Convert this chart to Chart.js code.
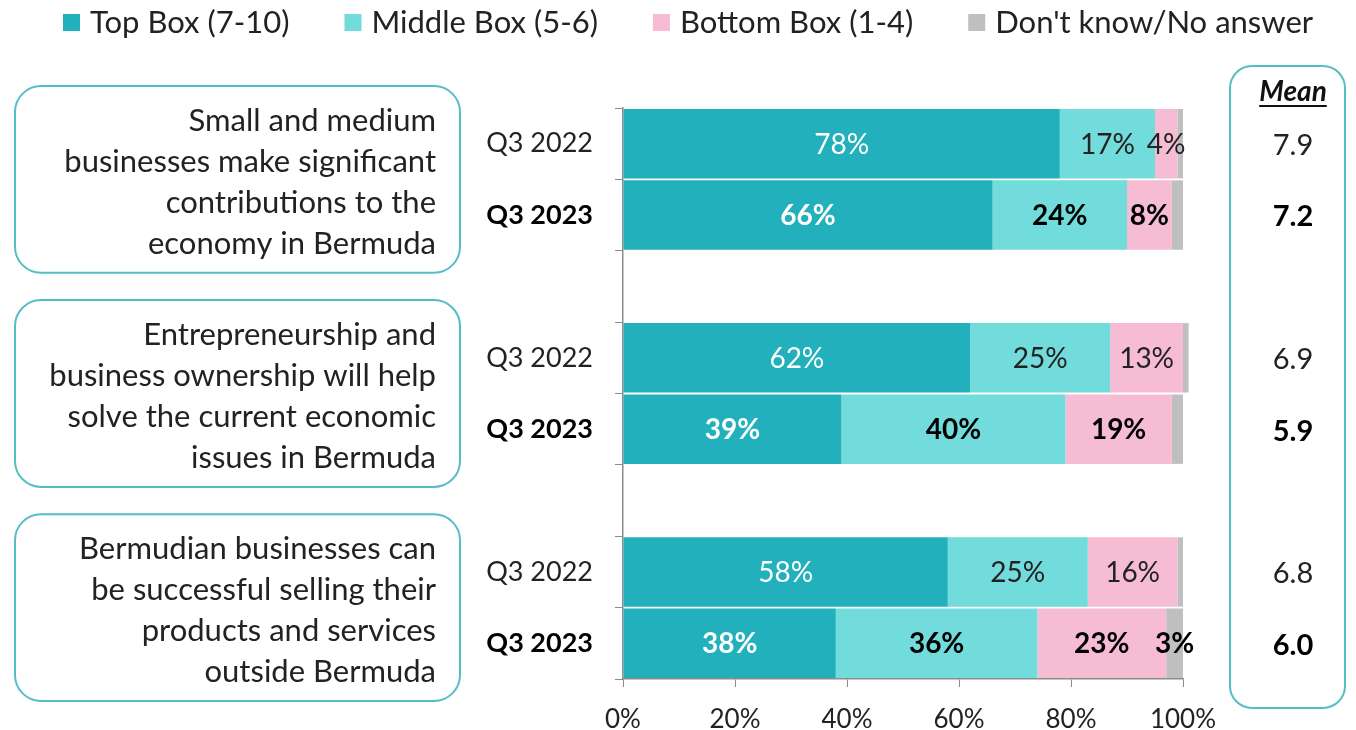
<!DOCTYPE html>
<html>
<head>
<meta charset="utf-8">
<script src="https://cdn.jsdelivr.net/npm/chart.js@4.4.1/dist/chart.umd.min.js"></script>
<style>
  html, body { margin: 0; padding: 0; background: #fff; }
  #wrap { width: 1356px; height: 730px; position: relative; }
</style>
</head>
<body>
<div id="wrap"><canvas id="agreeChart"></canvas></div>
<script>
const statements = [
  ['Small and medium', 'businesses make significant', 'contributions to the', 'economy in Bermuda'],
  ['Entrepreneurship and', 'business ownership will help', 'solve the current economic', 'issues in Bermuda'],
  ['Bermudian businesses can', 'be successful selling their', 'products and services', 'outside Bermuda']
];
const waves = ['Q3 2022', 'Q3 2023'];
const seriesNames = ['Top Box (7-10)', 'Middle Box (5-6)', 'Bottom Box (1-4)', "Don't know/No answer"];
const topBox = [78, 66, 62, 39, 58, 38];
const middleBox = [17, 24, 25, 40, 25, 36];
const bottomBox = [4, 8, 13, 19, 16, 23];
const dontKnow = [1, 2, 1, 2, 1, 3];
const means = ['7.9', '7.2', '6.9', '5.9', '6.8', '6.0'];
const xTickStep = 20;

const colors = ['#22b0bc', '#72dbdb', '#f5bcd3', '#bfbfbf'];
const FONT = 'Lato, "Open Sans", sans-serif';
const boxLine = '#55bec5';
const axisColor = '#8c8c8c';

// slots: two bars per statement, an empty slot between groups
const slotLabels = [];
const slotIndex = [];
statements.forEach((s, g) => {
  if (g > 0) { slotLabels.push(''); slotIndex.push(-1); }
  waves.forEach((w, k) => { slotLabels.push(w); slotIndex.push(g * 2 + k); });
});
const pad = arr => slotIndex.map(i => (i < 0 ? null : arr[i]));
const isLatest = i => slotIndex[i] >= 0 && slotIndex[i] % 2 === 1;

const decor = {
  id: 'decor',
  afterDatasetsDraw(chart) {
    const ctx = chart.ctx;
    ctx.save();
    ctx.textAlign = 'center';
    ctx.textBaseline = 'middle';
    chart.data.datasets.forEach((ds, d) => {
      const meta = chart.getDatasetMeta(d);
      meta.data.forEach((bar, j) => {
        const v = ds.data[j];
        if (v == null || v < 3) return;
        const bold = isLatest(j);
        ctx.font = (bold ? 'bold ' : '') + '28px ' + FONT;
        ctx.fillStyle = d === 0 ? '#ffffff' : (bold ? '#000000' : '#222222');
        ctx.fillText(v + '%', (bar.x + bar.base) / 2, bar.y + 1);
      });
    });
    ctx.restore();
  },
  afterDraw(chart) {
    const ctx = chart.ctx;
    ctx.save();

    // legend
    ctx.textBaseline = 'middle';
    ctx.textAlign = 'left';
    ctx.font = '31px ' + FONT;
    let lx = 63;
    seriesNames.forEach((name, i) => {
      ctx.fillStyle = colors[i];
      ctx.fillRect(lx, 14, 17, 17);
      ctx.fillStyle = '#222';
      ctx.fillText(name, lx + 27, 23);
      lx += 27 + ctx.measureText(name).width + 55;
    });

    // statement boxes
    const meta0 = chart.getDatasetMeta(0);
    statements.forEach((lines, g) => {
      const j0 = slotIndex.indexOf(g * 2);
      const j1 = slotIndex.indexOf(g * 2 + 1);
      const b0 = meta0.data[j0], b1 = meta0.data[j1];
      const top = b0.y - b0.height / 2 - 23;
      const bottom = b1.y + b1.height / 2 + 23;
      ctx.strokeStyle = boxLine;
      ctx.lineWidth = 2;
      ctx.beginPath();
      ctx.roundRect(15, top, 445, bottom - top, 26);
      ctx.stroke();
      const mid = (top + bottom) / 2 + 3;
      ctx.fillStyle = '#222';
      ctx.font = '31px ' + FONT;
      ctx.textAlign = 'right';
      lines.forEach((ln, k) => {
        ctx.fillText(ln, 436, mid + (k - (lines.length - 1) / 2) * 41);
      });
    });

    // mean column
    ctx.strokeStyle = boxLine;
    ctx.lineWidth = 2;
    ctx.beginPath();
    ctx.roundRect(1230, 66, 115, 642, 22);
    ctx.stroke();
    ctx.textAlign = 'center';
    ctx.fillStyle = '#111';
    ctx.font = 'italic bold 28px ' + FONT;
    ctx.fillText('Mean', 1293, 92);
    const mw = ctx.measureText('Mean').width;
    ctx.fillRect(1293 - mw / 2, 105, mw, 2);
    meta0.data.forEach((bar, j) => {
      if (slotIndex[j] < 0) return;
      ctx.font = (isLatest(j) ? 'bold ' : '') + '29px ' + FONT;
      ctx.fillStyle = isLatest(j) ? '#000' : '#222';
      ctx.fillText(means[slotIndex[j]], 1293, bar.y + 2);
    });
    ctx.restore();
  }
};

const series = [topBox, middleBox, bottomBox, dontKnow];

new Chart(document.getElementById('agreeChart'), {
  type: 'bar',
  data: {
    labels: slotLabels,
    datasets: series.map((arr, i) => ({
      label: seriesNames[i],
      data: pad(arr),
      backgroundColor: colors[i],
      borderWidth: 0,
      barPercentage: 1,
      categoryPercentage: 0.972,
      clip: false
    }))
  },
  options: {
    indexAxis: 'y',
    responsive: true,
    maintainAspectRatio: false,
    animation: false,
    layout: { padding: { left: 453, right: 173, top: 108, bottom: 0 } },
    plugins: {
      legend: { display: false },
      tooltip: { enabled: false }
    },
    scales: {
      x: {
        stacked: true,
        min: 0,
        max: 100,
        afterFit: scale => { scale.height = 51; },
        grid: { drawOnChartArea: false, tickLength: 8, color: axisColor },
        border: { color: axisColor, width: 1.5 },
        ticks: {
          stepSize: xTickStep,
          padding: 17,
          color: '#222',
          font: { family: FONT, size: 26 },
          callback: v => v + '%'
        }
      },
      y: {
        stacked: true,
        afterFit: scale => { scale.width = 170; },
        grid: { drawOnChartArea: false, tickLength: 8, color: axisColor },
        border: { color: axisColor, width: 1.5 },
        ticks: {
          padding: 22,
          color: ctx => (isLatest(ctx.index) ? '#000' : '#222'),
          font: ctx => ({ family: FONT, size: 27, weight: isLatest(ctx.index) ? 'bold' : 'normal' })
        }
      }
    }
  },
  plugins: [decor]
});
</script>
</body>
</html>
